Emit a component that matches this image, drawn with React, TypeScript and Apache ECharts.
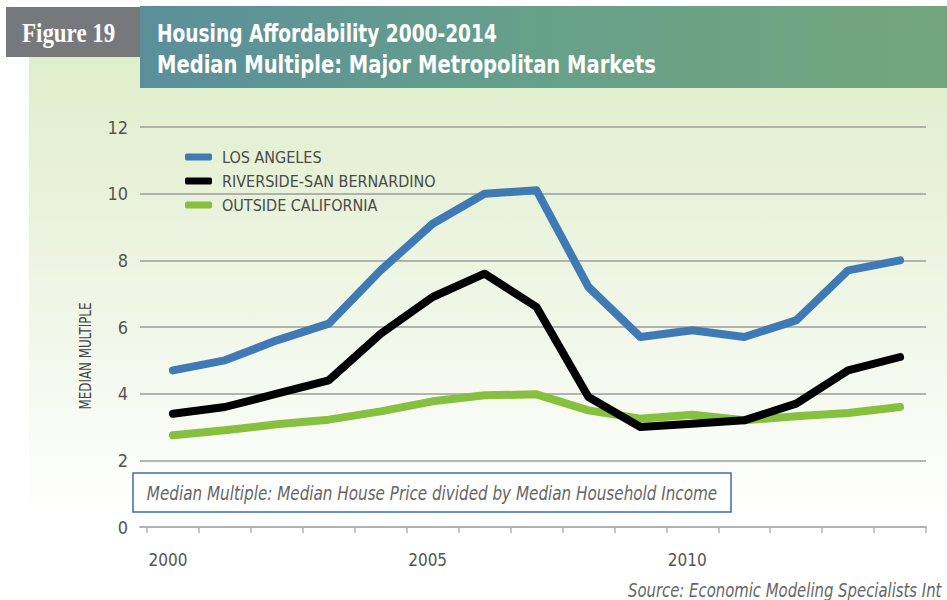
import React, { useEffect, useRef } from "react";
import * as echarts from "echarts";

const years = ["2000","2001","2002","2003","2004","2005","2006","2007","2008","2009","2010","2011","2012","2013","2014"];
const losAngeles = [4.7, 5.0, 5.6, 6.1, 7.7, 9.1, 10.0, 10.1, 7.2, 5.7, 5.9, 5.7, 6.2, 7.7, 8.0];
const riverside = [3.4, 3.6, 4.0, 4.4, 5.8, 6.9, 7.6, 6.6, 3.9, 3.0, 3.1, 3.2, 3.7, 4.7, 5.1];
const outsideCA = [2.75, 2.9, 3.08, 3.22, 3.47, 3.77, 3.95, 3.98, 3.5, 3.25, 3.37, 3.2, 3.32, 3.42, 3.6];
const seriesNames = ["LOS ANGELES", "RIVERSIDE-SAN BERNARDINO", "OUTSIDE CALIFORNIA"];
const seriesColors = ["#3f7ab4", "#000000", "#87c03f"];

const figureLabel = "Figure 19";
const titleLine1 = "Housing Affordability 2000-2014";
const titleLine2 = "Median Multiple: Major Metropolitan Markets";
const yAxisTitle = "MEDIAN MULTIPLE";
const noteText = "Median Multiple: Median House Price divided by Median Household Income";
const sourceText = "Source: Economic Modeling Specialists Int";

const NARROW = "'DejaVu Sans Condensed', 'Liberation Sans Narrow', sans-serif";

export default function App() {
  const ref = useRef<HTMLDivElement>(null);
  useEffect(() => {
    if (!ref.current) return;
    const chart = echarts.init(ref.current, null, { renderer: "svg" });
    const data = [losAngeles, riverside, outsideCA];
    chart.setOption({
      animation: false,
      backgroundColor: "#ffffff",
      grid: [
        { left: 140, right: 21, top: 127, bottom: 73 },
        { left: 147, right: 21, top: 127, bottom: 73 },
      ],
      legend: {
        orient: "vertical",
        left: 180,
        top: 143,
        itemWidth: 27,
        itemHeight: 7,
        itemGap: 6,
        icon: "roundRect",
        data: seriesNames,
        textStyle: {
          fontFamily: NARROW,
          fontSize: 16,
          color: "#4a4a4a",
          lineHeight: 18,
          padding: [0, 0, 0, 5],
        },
      },
      xAxis: [
        {
          gridIndex: 0,
          type: "category",
          data: years,
          axisLine: { show: true, lineStyle: { color: "#b3b3b3", width: 2 } },
          axisTick: { show: false },
          axisLabel: { show: false },
          splitLine: { show: false },
        },
        {
          gridIndex: 1,
          type: "category",
          data: years,
          boundaryGap: true,
          axisLine: { show: false },
          axisTick: { show: true, interval: 0, length: 6, lineStyle: { color: "#b3b3b3", width: 1.5 } },
          axisLabel: {
            interval: 4,
            margin: 24,
            fontFamily: NARROW,
            fontSize: 17,
            color: "#555555",
            padding: [0, 10, 0, 0],
          },
          splitLine: { show: false },
        },
      ],
      yAxis: [
        {
          gridIndex: 0,
          type: "value",
          min: 0,
          max: 12,
          interval: 2,
          axisLine: { show: false },
          axisTick: { show: false },
          axisLabel: { margin: 12, fontFamily: NARROW, fontSize: 18, color: "#555555" },
          splitLine: { show: true, lineStyle: { color: "#9c9c9c", width: 1.5 } },
        },
        {
          gridIndex: 1,
          type: "value",
          min: 0,
          max: 12,
          interval: 2,
          show: false,
          splitLine: { show: false },
        },
      ],
      series: data.map((d, i) => ({
        name: seriesNames[i],
        type: "line",
        xAxisIndex: 1,
        yAxisIndex: 1,
        data: d,
        showSymbol: false,
        symbol: "none",
        color: seriesColors[i],
        z: 10 - i,
        lineStyle: { width: 8, color: seriesColors[i], cap: "round", join: "round" },
      })),
      graphic: [
        {
          type: "rect",
          z: -100,
          silent: true,
          shape: { x: 29, y: 57, width: 918, height: 543 },
          style: {
            fill: new echarts.graphic.LinearGradient(0, 0, 0, 1, [
              { offset: 0, color: "#dfeecb" },
              { offset: 0.55, color: "#f3f8ec" },
              { offset: 0.85, color: "#ffffff" },
              { offset: 1, color: "#ffffff" },
            ]),
          },
        },
        {
          type: "rect",
          z: 50,
          silent: true,
          shape: { x: 140, y: 6, width: 807, height: 82 },
          style: {
            fill: new echarts.graphic.LinearGradient(0, 0, 1, 0, [
              { offset: 0, color: "#5a8f9a" },
              { offset: 0.5, color: "#67a08a" },
              { offset: 1, color: "#73a67c" },
            ]),
          },
        },
        {
          type: "rect",
          z: 50,
          silent: true,
          shape: { x: 6, y: 7, width: 134, height: 50 },
          style: { fill: "#77787c" },
        },
        {
          type: "text",
          z: 60,
          silent: true,
          x: 22,
          y: 33,
          scaleX: 0.85,
          style: {
            text: figureLabel,
            fill: "#ffffff",
            font: "bold 27px 'Liberation Serif', 'DejaVu Serif', serif",
            verticalAlign: "middle",
          },
        },
        {
          type: "text",
          z: 60,
          silent: true,
          x: 157,
          y: 33,
          scaleX: 0.86,
          style: {
            text: titleLine1,
            fill: "#ffffff",
            font: "bold 24px " + NARROW,
            verticalAlign: "middle",
          },
        },
        {
          type: "text",
          z: 60,
          silent: true,
          x: 157,
          y: 65,
          scaleX: 0.905,
          style: {
            text: titleLine2,
            fill: "#ffffff",
            font: "bold 24px " + NARROW,
            verticalAlign: "middle",
          },
        },
        {
          type: "text",
          z: 60,
          silent: true,
          x: 86,
          y: 356,
          rotation: Math.PI / 2,
          scaleX: 0.88,
          style: {
            text: yAxisTitle,
            fill: "#444444",
            font: "15px " + NARROW,
            align: "center",
            verticalAlign: "middle",
          },
        },
        {
          type: "rect",
          z: 60,
          silent: true,
          shape: { x: 133, y: 473, width: 598, height: 39 },
          style: { fill: "#ffffff", stroke: "#3d6fa3", lineWidth: 1.5 },
        },
        {
          type: "text",
          z: 61,
          silent: true,
          x: 432,
          y: 493,
          scaleX: 0.845,
          style: {
            text: noteText,
            fill: "#666666",
            font: "italic 20px " + NARROW,
            align: "center",
            verticalAlign: "middle",
          },
        },
        {
          type: "text",
          z: 61,
          silent: true,
          x: 628,
          y: 590,
          scaleX: 0.87,
          style: {
            text: sourceText,
            fill: "#666666",
            font: "italic 19px " + NARROW,
            align: "left",
            verticalAlign: "middle",
          },
        },
      ],
    });
    return () => chart.dispose();
  }, []);
  return (
    <div
      ref={ref}
      style={{ position: "fixed", left: 0, top: 0, width: 947, height: 600 }}
    />
  );
}
